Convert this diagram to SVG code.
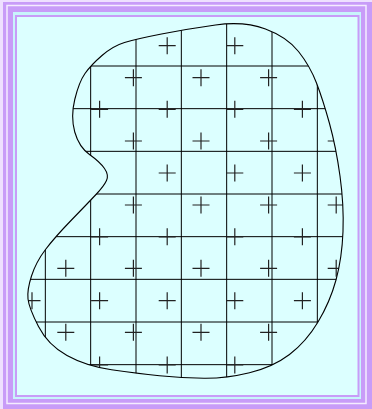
<svg xmlns="http://www.w3.org/2000/svg" width="372" height="409" viewBox="0 0 372 409">
<style>
.grid{stroke:#000;stroke-width:1;fill:none}
.plus{stroke:#222;stroke-width:1.2;fill:none}
.outline{fill:none;stroke:#000;stroke-width:1.1}
</style>
<defs>
<path id="shape" d="M215.5,25 Q244,21 265.5,29 Q287,37 298.5,51.5 Q310,66 316.5,83 Q323,100 329.5,123.5 Q336,147 340,176 Q344,205 343,231.5 Q342,258 336,280 Q330,302 318,322 Q306,342 289.5,354.5 Q273,367 249.5,372.75 Q226,378.5 204,378.25 Q182,378 159.5,375.75 Q137,373.5 111.5,369.75 Q86,366 67,355.5 Q48,345 38.5,326.5 Q29,308 28,299 Q27,290 31.5,276 Q36,262 45.5,249.5 Q55,237 71.5,220 Q88,203 96,194.5 Q104,186 106.5,180.5 Q109,175 104.5,168.5 Q100,162 89.5,154.5 Q79,147 74.75,132 Q70.5,117 74.75,99.5 Q79,82 85,73.5 Q91,65 102,55.5 Q113,46 124.5,42.5 Q136,39 161.5,34 Q187,29 215.5,25 Z"/>
<clipPath id="clip"><use href="#shape"/></clipPath>
<path id="plus" d="M-8.5,0H8.5M0,-8.5V8.5"/>
</defs>
<g id="frame">
<rect width="372" height="409" fill="#eee0ff"/>
<rect x="3" y="2" width="369" height="407" fill="#c89cf8"/>
<rect x="7" y="5.5" width="359" height="398" fill="none" stroke="#f4ecff" stroke-width="1.5"/>
<rect x="13" y="12" width="348" height="387" fill="#c8f4fb"/>
<rect x="16" y="16" width="342.5" height="380" fill="#dcffff" stroke="#c89cf8" stroke-width="2"/>
</g>
<g id="grid" class="grid" clip-path="url(#clip)">
<path d="M45.33,20V400M90.67,20V400M136,20V400M181.33,20V400M226.67,20V400M272,20V400M317.33,20V400M20,66H360M20,108.67H360M20,151.33H360M20,194H360M20,236.67H360M20,279.33H360M20,322H360M20,364.67H360"/>
</g>
<g id="crosses" class="plus" clip-path="url(#clip)">
<use href="#plus" x="167.2" y="45.7"/>
<use href="#plus" x="234.8" y="45.7"/>
<use href="#plus" x="133.4" y="77.7"/>
<use href="#plus" x="201" y="77.7"/>
<use href="#plus" x="268.6" y="77.7"/>
<use href="#plus" x="99.6" y="109.3"/>
<use href="#plus" x="167.2" y="109.3"/>
<use href="#plus" x="234.8" y="109.3"/>
<use href="#plus" x="302.4" y="109.3"/>
<use href="#plus" x="133.4" y="141"/>
<use href="#plus" x="201" y="141"/>
<use href="#plus" x="268.6" y="141"/>
<use href="#plus" x="336.2" y="141"/>
<use href="#plus" x="167.2" y="173"/>
<use href="#plus" x="234.8" y="173"/>
<use href="#plus" x="302.4" y="173"/>
<use href="#plus" x="133.4" y="205"/>
<use href="#plus" x="201" y="205"/>
<use href="#plus" x="268.6" y="205"/>
<use href="#plus" x="336.2" y="205"/>
<use href="#plus" x="99.6" y="236.8"/>
<use href="#plus" x="167.2" y="236.8"/>
<use href="#plus" x="234.8" y="236.8"/>
<use href="#plus" x="302.4" y="236.8"/>
<use href="#plus" x="65.8" y="268.3"/>
<use href="#plus" x="133.4" y="268.3"/>
<use href="#plus" x="201" y="268.3"/>
<use href="#plus" x="268.6" y="268.3"/>
<use href="#plus" x="336.2" y="268.3"/>
<use href="#plus" x="32" y="300.7"/>
<use href="#plus" x="99.6" y="300.7"/>
<use href="#plus" x="167.2" y="300.7"/>
<use href="#plus" x="234.8" y="300.7"/>
<use href="#plus" x="302.4" y="300.7"/>
<use href="#plus" x="65.8" y="332.3"/>
<use href="#plus" x="133.4" y="332.3"/>
<use href="#plus" x="201" y="332.3"/>
<use href="#plus" x="268.6" y="332.3"/>
<use href="#plus" x="99.6" y="365"/>
<use href="#plus" x="167.2" y="365"/>
<use href="#plus" x="234.8" y="365"/>
</g>
<g id="region">
<use href="#shape" class="outline"/>
</g>
</svg>
